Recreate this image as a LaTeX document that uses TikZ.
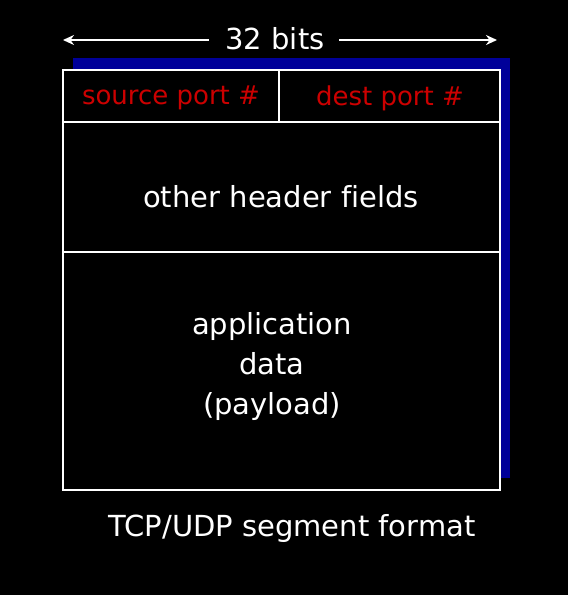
\documentclass[tikz,border=0pt]{standalone}
\usepackage{fontspec}
\setmainfont{DejaVu Sans}[Ligatures=NoCommon]
\usetikzlibrary{arrows.meta}
\definecolor{portred}{RGB}{204,0,0}
\definecolor{shadowblue}{RGB}{0,0,153}
\tikzset{
  lbl/.style={font=\fontsize{29}{40}\selectfont, text=white, inner sep=0pt, align=center},
  portlbl/.style={lbl, font=\fontsize{26}{32}\selectfont, text=portred},
  frame/.style={draw=white, line width=2pt},
  dimarrow/.style={draw=white, line width=2pt, -{Stealth[length=11pt,width=10pt]}}
}
\begin{document}
\begin{tikzpicture}[x=1pt,y=-1pt]
\fill[black] (0,0) rectangle (568,595);
\useasboundingbox (0,0) rectangle (568,595);
% shadow
\fill[shadowblue] (73,58) rectangle (510,478);
% main box
\fill[black] (63,70) rectangle (500,490);
\draw[frame] (63,70) rectangle (500,490);
\draw[frame] (63,122) -- (500,122);
\draw[frame] (63,252) -- (500,252);
\draw[frame] (279,70) -- (279,122);
% labels
\node[lbl] (bits) at (275,39) {32 bits};
\coordinate (lt) at (63,40);
\coordinate (rt) at (497,40);
\coordinate (la) at (209,40);
\coordinate (ra) at (339,40);
\draw[dimarrow] (la) -- (lt);
\draw[dimarrow] (ra) -- (rt);
\node[portlbl] (src) at (171,98) {source port \#};
\node[portlbl] (dst) at (390,98) {dest port \#};
\node[lbl] (hdr) at (281,197) {other header fields};
\node[lbl] (app) at (272,366) {application\\data\\(payload)};
\node[lbl] (cap) at (292,528) {TCP/UDP segment format};
\end{tikzpicture}
\end{document}
